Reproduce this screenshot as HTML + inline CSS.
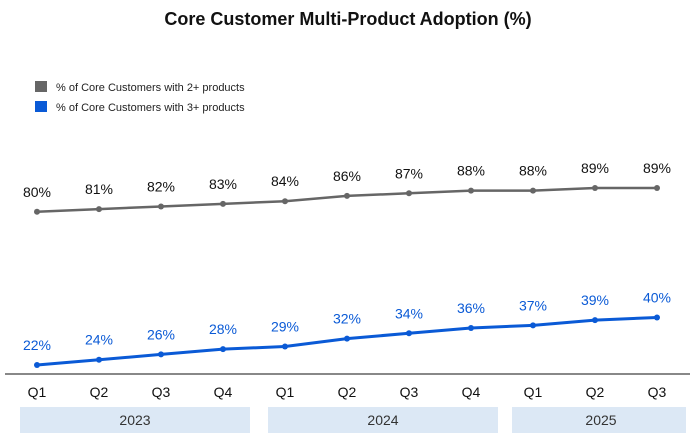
<!DOCTYPE html>
<html><head><meta charset="utf-8"><style>
body{margin:0;background:#fff;font-family:"Liberation Sans",sans-serif;}
svg text{font-family:"Liberation Sans",sans-serif;}
</style></head><body>
<svg width="697" height="441">
<text x="348" y="25" text-anchor="middle" font-size="18" font-weight="bold" fill="#111">Core Customer Multi-Product Adoption (%)</text>
<g>
<rect x="35" y="81" width="12" height="11" fill="#666"/>
<text x="56" y="91" font-size="11" fill="#222">% of Core Customers with 2+ products</text>
<rect x="35" y="101" width="12" height="11" fill="#0a5ad6"/>
<text x="56" y="111" font-size="11" fill="#222">% of Core Customers with 3+ products</text>
</g>
<line x1="5" y1="374" x2="690" y2="374" stroke="#111" stroke-width="1"/>
<g id="plot"></g>
</svg>
<script>
const quarters=["Q1","Q2","Q3","Q4","Q1","Q2","Q3","Q4","Q1","Q2","Q3"];
const series2=[80,81,82,83,84,86,87,88,88,89,89];
const series3=[22,24,26,28,29,32,34,36,37,39,40];
const years=["2023","2024","2025"];
const yearSpans=[[0,3],[4,7],[8,10]];
const NS="http://www.w3.org/2000/svg";
const g=document.getElementById('plot');
const xs=i=>37+i*62;
const ys=v=>365-(v-22)*2.642;
function mk(t,a){const e=document.createElementNS(NS,t);for(const k in a)e.setAttribute(k,a[k]);g.appendChild(e);return e;}
yearSpans.forEach((s,i)=>{
 const x0=i==0?20:xs(s[0])-17, x1=i==2?686:xs(s[1])+27;
 const r=mk('rect',{x:x0-(i==2?4:0),y:407,width:x1-x0+(i==2?4:0),height:26,fill:'#dce8f5'});
 
 
 const t=mk('text',{x:(x0+x1)/2,y:425,'text-anchor':'middle','font-size':'14',fill:'#333'});
 t.textContent=years[i];
 
 
});
quarters.forEach((q,i)=>{
 const t=mk('text',{x:xs(i),y:397,'text-anchor':'middle','font-size':'14',fill:'#111'});
 t.textContent=q;
 
 
});
function drawSeries(vals,color,name,w){
 const p=mk('polyline',{points:vals.map((v,i)=>xs(i)+','+ys(v)).join(' '),fill:'none',stroke:color,'stroke-width':w});
 
 
 vals.forEach((v,i)=>{
  const c=mk('circle',{cx:xs(i),cy:ys(v),r:3,fill:color});
  
  
  const t=mk('text',{x:xs(i),y:ys(v)-15,'text-anchor':'middle','font-size':'14',fill:color==='#666'?'#111':color});
  t.textContent=v+'%';
  
  
 });
}
drawSeries(series2,'#666','series-2plus','2.5');
drawSeries(series3,'#0a5ad6','series-3plus','3');
</script>
</body></html>
